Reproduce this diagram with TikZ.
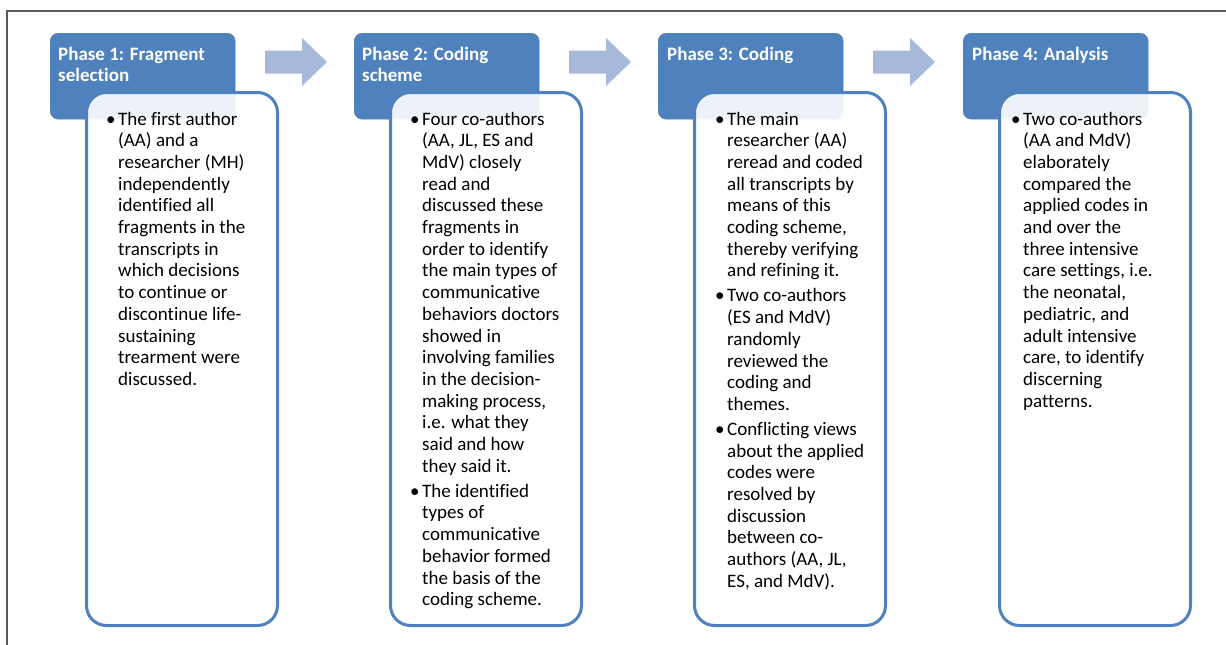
\documentclass[tikz,border=0pt]{standalone}
\usepackage{fontspec}
\setmainfont[Ligatures=CommonOff]{Carlito}
\definecolor{hdr}{HTML}{4F81BD}
\definecolor{arr}{HTML}{A7B9DA}
\definecolor{frm}{HTML}{5A5A5A}
\tikzset{
 header/.style={draw=hdr, fill=hdr, rounded corners=8pt, anchor=north west, minimum width=185pt, minimum height=86pt, inner sep=0pt},
 bodybox/.style={draw=hdr, line width=3pt, fill=white, fill opacity=0.9, draw opacity=1, rounded corners=20pt, anchor=north west, minimum width=191pt, minimum height=533pt, inner sep=0pt},
 hdrtext/.style={anchor=base west, inner sep=0pt, text=white, font=\fontsize{19}{21}\selectfont\bfseries},
 bodytext/.style={anchor=base west, inner sep=0pt, font=\fontsize{19}{21.7}\selectfont},
 flowarrow/.style={fill=arr},
 frameline/.style={draw=frm, line width=1.2pt}
}
\newcommand{\bitem}{\par\hangindent=12pt\hangafter=1\noindent\makebox[12pt][l]{\textbullet}}
\newcommand{\btext}[1]{\begin{minipage}[t]{190pt}\parskip=3.3pt\parindent=0pt\rightskip=0pt plus 1fil #1\end{minipage}}
\newcommand{\htext}[1]{\begin{minipage}[t]{180pt}\raggedright #1\end{minipage}}
\newcommand{\blockarrow}[1]{\fill[flowarrow] (#1,50.5) -- (#1+37,50.5) -- (#1+37,38) -- (#1+62,62) -- (#1+37,86) -- (#1+37,73.5) -- (#1,73.5) -- cycle;}
\begin{document}
\begin{tikzpicture}[x=1pt,y=-1pt]
\useasboundingbox (0,0) rectangle (1226,645);
% outer frame (top and left edges visible)
\coordinate (fr1) at (7,645);
\coordinate (fr2) at (7,11);
\coordinate (fr3) at (1226,11);
\draw[frameline] (fr1) -- (fr2) -- (fr3);

% headers
\node[header] (h1) at (50,33) {};
\node[header] (h2) at (354,33) {};
\node[header] (h3) at (658,33) {};
\node[header] (h4) at (963,33) {};

% arrows
\blockarrow{265}
\blockarrow{569}
\blockarrow{873}

% header texts
\node[hdrtext] (ht1) at (58,60) {\htext{Phase 1: Fragment\\selection}};
\node[hdrtext] (ht2) at (362,60) {\htext{Phase 2: Coding\\scheme}};
\node[hdrtext] (ht3) at (667,60) {\htext{Phase 3: Coding}};
\node[hdrtext] (ht4) at (972,60) {\htext{Phase 4: Analysis}};

% body boxes
\node[bodybox] (b1) at (85,91) {};
\node[bodybox] (b2) at (389,91) {};
\node[bodybox] (b3) at (693,91) {};
\node[bodybox] (b4) at (998,91) {};

% body texts
\node[bodytext] (t1) at (106,125) {\btext{%
\bitem The first author\newline (AA) and a\newline researcher (MH)\newline independently\newline identified all\newline fragments in the\newline transcripts in\newline which decisions\newline to continue or\newline discontinue life-\newline sustaining\newline trearment were\newline discussed.}};

\node[bodytext] (t2) at (410,125) {\btext{%
\bitem Four co-authors\newline (AA, JL, ES and\newline MdV) closely\newline read and\newline discussed these\newline fragments in\newline order to identify\newline the main types of\newline communicative\newline behaviors doctors\newline showed in\newline involving families\newline in the decision-\newline making process,\newline i.e. what they\newline said and how\newline they said it.
\bitem The identified\newline types of\newline communicative\newline behavior formed\newline the basis of the\newline coding scheme.}};

\node[bodytext] (t3) at (715,125) {\btext{%
\bitem The main\newline researcher (AA)\newline reread and coded\newline all transcripts by\newline means of this\newline coding scheme,\newline thereby verifying\newline and refining it.
\bitem Two co-authors\newline (ES and MdV)\newline randomly\newline reviewed the\newline coding and\newline themes.
\bitem Conflicting views\newline about the applied\newline codes were\newline resolved by\newline discussion\newline between co-\newline authors (AA, JL,\newline ES, and MdV).}};

\node[bodytext] (t4) at (1011,125) {\btext{%
\bitem Two co-authors\newline (AA and MdV)\newline elaborately\newline compared the\newline applied codes in\newline and over the\newline three intensive\newline care settings, i.e.\newline the neonatal,\newline pediatric, and\newline adult intensive\newline care, to identify\newline discerning\newline patterns.}};
\end{tikzpicture}
\end{document}
